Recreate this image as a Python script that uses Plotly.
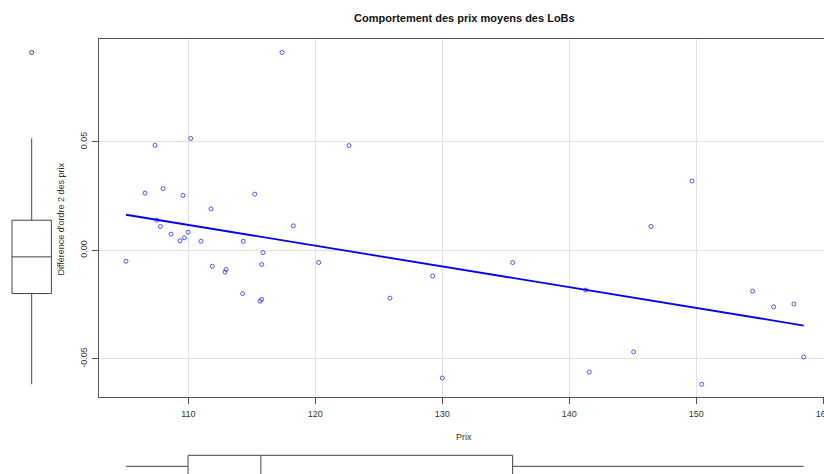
import numpy as np
import plotly.graph_objects as go

# Prix moyens et différence d'ordre 2 des prix (42 LoBs)
prix = [105.09, 106.59, 107.38, 107.51, 107.80, 108.01, 108.64, 109.35, 109.58,
        109.69, 109.98, 110.19, 111.00, 111.79, 111.89, 112.97, 112.89, 114.28,
        114.33, 115.23, 115.78, 115.65, 115.78, 115.88, 117.38, 118.27, 120.27,
        122.65, 125.88, 129.24, 130.00, 135.54, 141.29, 141.57, 145.07, 146.43,
        149.66, 150.43, 154.44, 156.09, 157.69, 158.46]
diff2 = [-0.0050, 0.0264, 0.0484, 0.0139, 0.0110, 0.0285, 0.0075, 0.0044, 0.0253,
         0.0058, 0.0084, 0.0516, 0.0042, 0.0191, -0.0073, -0.0088, -0.0100, -0.0199,
         0.0042, 0.0259, -0.0226, -0.0234, -0.0065, -0.0010, 0.0912, 0.0113, -0.0056,
         0.0483, -0.0220, -0.0118, -0.0588, -0.0056, -0.0183, -0.0561, -0.0468, 0.0110,
         0.0320, -0.0617, -0.0188, -0.0260, -0.0247, -0.0491]

x_ticks = [110, 120, 130, 140, 150, 160]
y_ticks = [-0.05, 0.00, 0.05]
y_tick_text = ["-0.05", "0.00", "0.05"]

W, H = 824, 474
FONT = "Liberation Sans, Arial, sans-serif"
AXIS_COL = "#555555"
GRID_COL = "#e2e2e2"

# main panel geometry (pixels)
left_px, top_px, bottom_px = 99.3, 39.0, 397.3
x_range = [102.99, 160.06]
y_range = [-0.0677, 0.0974]

# least-squares fit
slope, intercept = np.polyfit(prix, diff2, 1)
x_fit = np.array([min(prix), max(prix)])
y_fit = intercept + slope * x_fit

fig = go.Figure()

fig.add_trace(go.Scatter(
    x=prix, y=diff2, mode="markers",
    marker=dict(symbol="circle-open", size=4, color="rgba(30,30,255,0.75)",
                line=dict(width=1)),
    xaxis="x", yaxis="y", showlegend=False, hoverinfo="x+y"))

fig.add_trace(go.Scatter(
    x=x_fit, y=y_fit, mode="lines",
    line=dict(color="#0000ff", width=1.8),
    xaxis="x", yaxis="y", showlegend=False))

# marginal boxplot of the differences (left)
fig.add_trace(go.Box(
    y=diff2, x0=31.7, width=39.4, quartilemethod="exclusive",
    boxpoints="outliers", fillcolor="white",
    line=dict(color="#444444", width=1),
    marker=dict(symbol="circle-open", size=4, color="#444444", line=dict(width=1)),
    xaxis="x2", yaxis="y2", showlegend=False, whiskerwidth=0))

# marginal boxplot of the prices (bottom)
fig.add_trace(go.Box(
    x=prix, y0=466.3, width=22, orientation="h", quartilemethod="exclusive",
    boxpoints="outliers", fillcolor="white",
    line=dict(color="#444444", width=1),
    marker=dict(symbol="circle-open", size=4, color="#444444", line=dict(width=1)),
    xaxis="x3", yaxis="y3", showlegend=False, whiskerwidth=0))

main_x_dom = [left_px / W, 1.0]
main_y_dom = [1 - bottom_px / H, 1 - top_px / H]

fig.update_layout(
    width=W, height=H,
    margin=dict(l=0, r=0, t=0, b=0, autoexpand=False),
    paper_bgcolor="white", plot_bgcolor="rgba(0,0,0,0)",
    font=dict(family=FONT, size=9, color="#333333"),
    xaxis=dict(domain=main_x_dom, range=x_range, tickvals=x_ticks,
               showgrid=True, gridcolor=GRID_COL, gridwidth=1, zeroline=False,
               showline=True, linecolor=AXIS_COL, linewidth=1, mirror=True,
               ticks="outside", ticklen=6, tickcolor=AXIS_COL,
               tickfont=dict(size=9, color="#333333"), ticklabelstandoff=2,
               ticklabeloverflow="allow", automargin=False, anchor="y"),
    yaxis=dict(domain=main_y_dom, range=y_range, tickvals=y_ticks, ticktext=y_tick_text,
               showgrid=True, gridcolor=GRID_COL, gridwidth=1, zeroline=False,
               showline=True, linecolor=AXIS_COL, linewidth=1,
               ticks="outside", ticklen=6, tickcolor=AXIS_COL, tickangle=-90,
               tickfont=dict(size=9, color="#333333"), ticklabelstandoff=2,
               automargin=False, anchor="x"),
    xaxis2=dict(domain=[0, left_px / W], range=[0, left_px], visible=False, anchor="y2"),
    yaxis2=dict(domain=main_y_dom, range=y_range, visible=False, anchor="x2"),
    xaxis3=dict(domain=main_x_dom, range=x_range, visible=False, anchor="y3"),
    yaxis3=dict(domain=[0, 1 - bottom_px / H], range=[H, bottom_px], visible=False,
                anchor="x3"),
    annotations=[
        dict(text="<b>Comportement des prix moyens des LoBs</b>", x=464 / W, y=1 - 18 / H,
             xref="paper", yref="paper", showarrow=False,
             font=dict(size=11, color="#111111"), xanchor="center", yanchor="middle"),
        dict(text="Prix", x=464 / W, y=1 - 436.7 / H, xref="paper", yref="paper",
             showarrow=False, font=dict(size=9, color="#333333"),
             xanchor="center", yanchor="middle"),
        dict(text="Différence d'ordre 2 des prix", x=60 / W, y=1 - 218.5 / H,
             xref="paper", yref="paper", showarrow=False, textangle=-90,
             font=dict(size=9, color="#333333"), xanchor="center", yanchor="middle"),
    ],
)

fig.write_html("out.html")
